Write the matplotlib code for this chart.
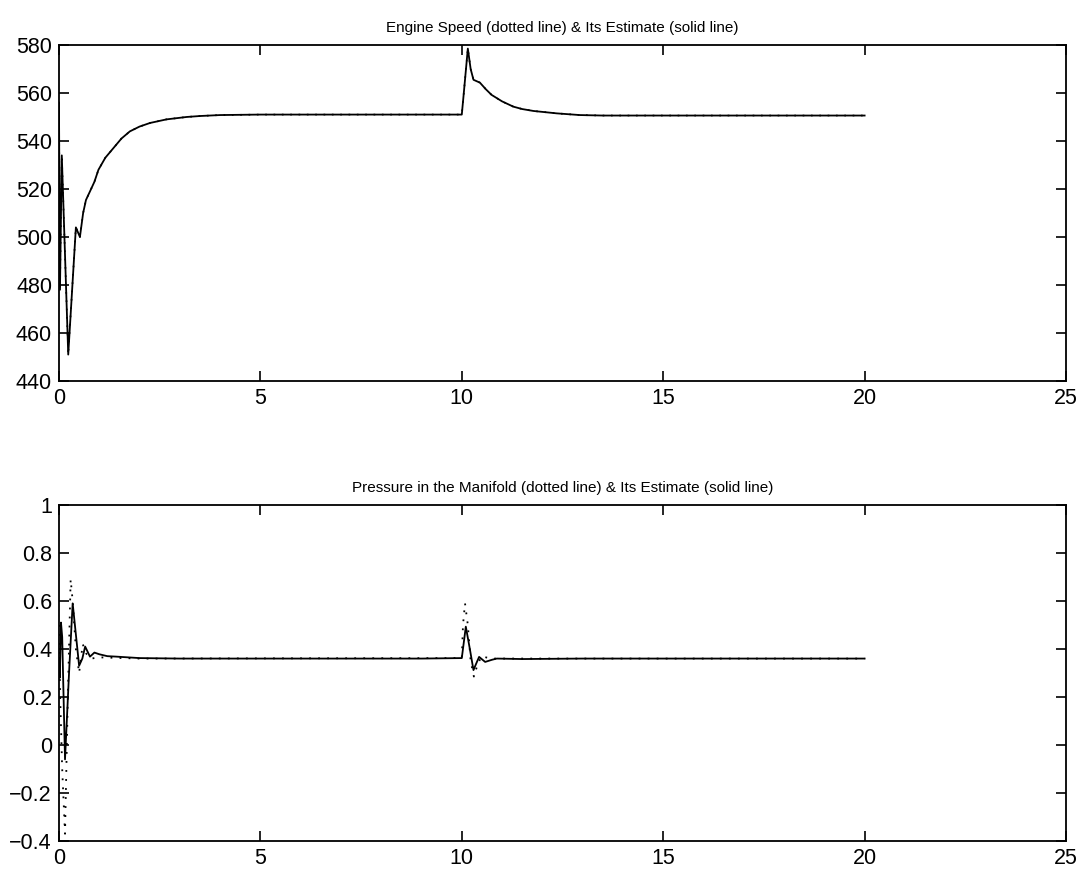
import matplotlib
matplotlib.use("Agg")
import matplotlib.pyplot as plt

# engine speed, estimate (solid) and measured (dotted)
speed_t = [0, 0.025, 0.07, 0.23, 0.42, 0.52, 0.6, 0.67, 0.77, 0.88, 0.98, 1.15, 1.35,
           1.55, 1.76, 2.0, 2.26, 2.67, 3.17, 3.5, 4.0, 5, 6, 7, 8, 9, 10.0, 10.05,
           10.15, 10.22, 10.29, 10.45, 10.6, 10.74, 11.0, 11.28, 11.5, 11.78, 12.36,
           12.93, 13.5, 15, 17, 20]
speed_est = [556, 478, 534, 451, 504, 500, 510, 515.4, 519, 523, 528, 533, 537,
             541, 544, 546, 547.5, 549, 550, 550.4, 550.8, 551, 551, 551, 551, 551, 551, 560,
             578.5, 570, 565.5, 564.3, 561.5, 559.2, 556.5, 554.3, 553.3, 552.5, 551.5,
             550.8, 550.6, 550.6, 550.6, 550.6]
speed_true = list(speed_est)

# manifold pressure
p_t = [0, 0.02, 0.05, 0.08, 0.15, 0.25, 0.34, 0.42, 0.5, 0.58, 0.65, 0.77, 0.88, 1.0,
       1.2, 1.43, 2.0, 3, 5, 7, 9, 10.0, 10.1, 10.2, 10.29, 10.36, 10.43, 10.58, 10.75,
       10.87, 11.5, 13, 15, 17, 20]
p_est = [0.36, 0.28, 0.51, 0.45, -0.06, 0.30, 0.59, 0.46, 0.33, 0.36, 0.41, 0.368, 0.385, 0.378,
         0.37, 0.368, 0.362, 0.36, 0.36, 0.36, 0.36, 0.362, 0.493, 0.40, 0.312, 0.34, 0.367, 0.346, 0.355,
         0.36, 0.358, 0.36, 0.36, 0.36, 0.36]
p_true_t = [0, 0.03, 0.08, 0.15, 0.22, 0.29, 0.34, 0.42, 0.5, 0.59, 0.68, 0.8, 1.0, 2, 10.0,
            10.03, 10.08, 10.15, 10.22, 10.3, 10.4, 10.5, 10.7, 11, 20]
p_true = [0.5, 0.2, -0.1, -0.37, 0.2, 0.69, 0.6, 0.4, 0.30, 0.42, 0.38, 0.36, 0.365, 0.36, 0.362,
          0.5, 0.59, 0.5, 0.35, 0.285, 0.34, 0.37, 0.36, 0.36, 0.36]

titles = ["Engine Speed (dotted line) & Its Estimate (solid line)",
          "Pressure in the Manifold (dotted line) & Its Estimate (solid line)"]
yticks_top = [440, 460, 480, 500, 520, 540, 560, 580]
yticks_bot = [-0.4, -0.2, 0, 0.2, 0.4, 0.6, 0.8, 1]
ytick_labels_bot = ["\u22120.4", "\u22120.2", "0", "0.2", "0.4", "0.6", "0.8", "1"]
xticks = [0, 5, 10, 15, 20, 25]

plt.rcParams['font.family'] = ['Liberation Sans', 'DejaVu Sans']

fig = plt.figure(figsize=(10.88, 8.75), dpi=100)
ax1 = fig.add_axes([0.0542, 0.5646, 0.9256, 0.384])
ax2 = fig.add_axes([0.0542, 0.0389, 0.9256, 0.384])

ax1.plot(speed_t, speed_true, color='black', lw=1.2, linestyle=(0, (1, 4)))
ax1.plot(speed_t, speed_est, color='black', lw=1.3)
ax1.set_ylim(440, 580)
ax1.set_yticks(yticks_top)

ax2.plot(p_true_t, p_true, color='black', lw=1.3, linestyle=(0, (1, 4)))
ax2.plot(p_t, p_est, color='black', lw=1.3)
ax2.set_ylim(-0.4, 1)
ax2.set_yticks(yticks_bot)
ax2.set_yticklabels(ytick_labels_bot)

for ax, ttl in zip([ax1, ax2], titles):
    ax.set_xlim(0, 25)
    ax.set_xticks(xticks)
    ax.tick_params(direction='in', length=7, width=1.2, top=True, right=True,
                   labelsize=15.5, pad=5)
    for s in ax.spines.values():
        s.set_linewidth(1.3)
    ax.set_title(ttl, fontsize=11, pad=9)

fig.savefig("out.png", dpi=100)
